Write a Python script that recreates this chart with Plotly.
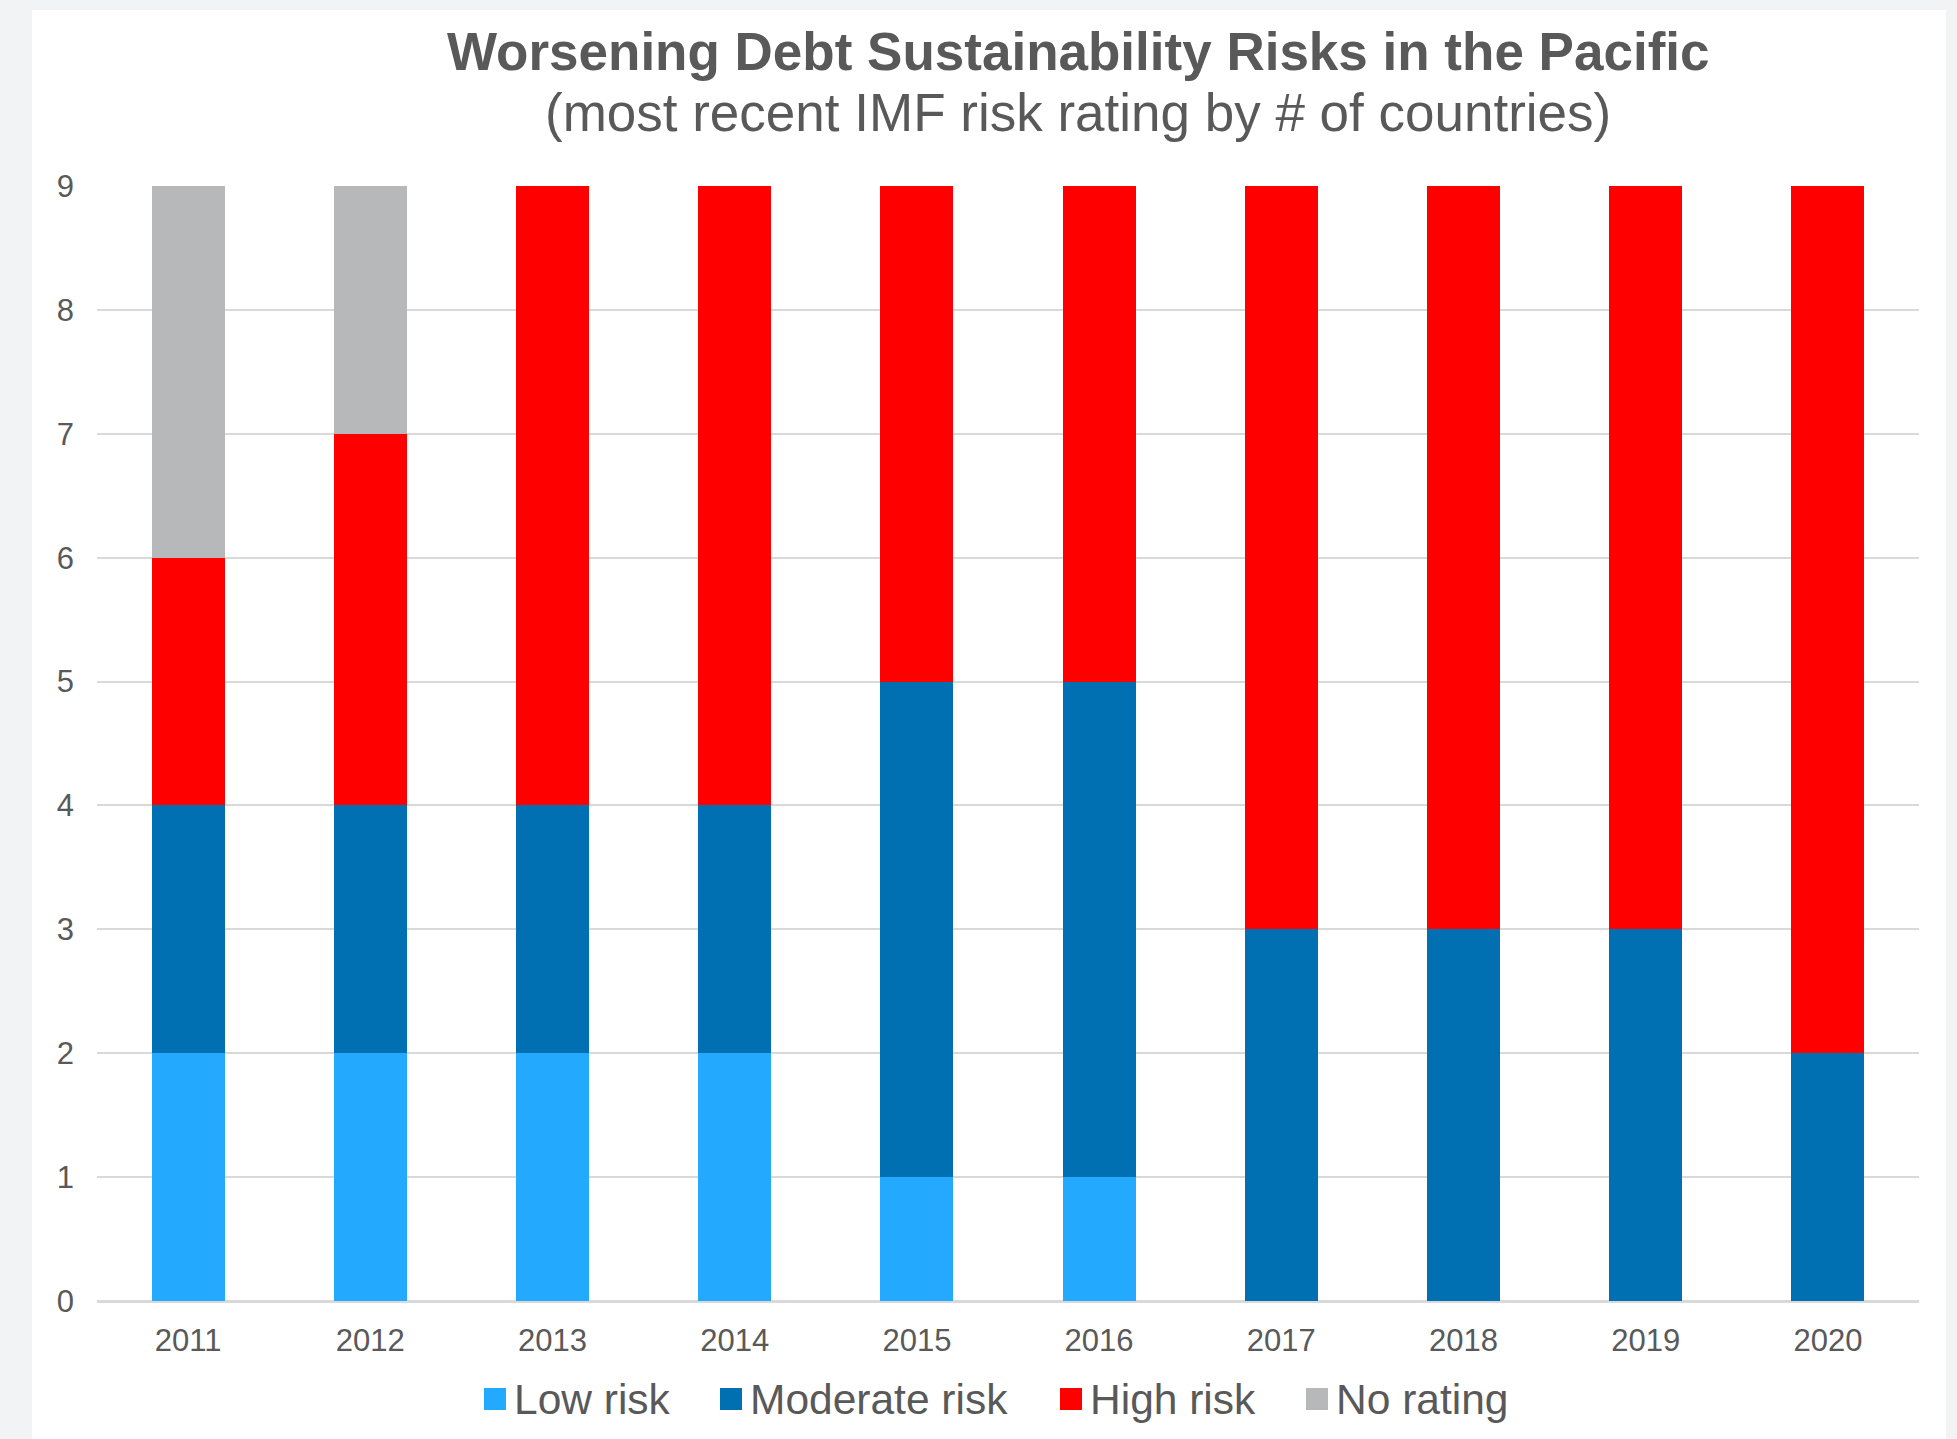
import plotly.graph_objects as go

# Pacific debt-distress ratings, number of countries per rating
years = ["2011", "2012", "2013", "2014", "2015", "2016", "2017", "2018", "2019", "2020"]
low_risk = [2, 2, 2, 2, 1, 1, 0, 0, 0, 0]
moderate_risk = [2, 2, 2, 2, 4, 4, 3, 3, 3, 2]
high_risk = [2, 3, 5, 5, 4, 4, 6, 6, 6, 7]
no_rating = [3, 2, 0, 0, 0, 0, 0, 0, 0, 0]

series_names = ["Low risk", "Moderate risk", "High risk", "No rating"]
series_values = [low_risk, moderate_risk, high_risk, no_rating]
series_colors = ["#23AAFF", "#0070B2", "#FF0000", "#B7B8BA"]

FONT = "Liberation Sans, Arial, sans-serif"
TEXT = "#595959"

W, H = 1957, 1439
ML, MR, MT, MB = 97, 38, 186, 138
plot_w = W - ML - MR
plot_h = H - MT - MB


def px_x(x):
    return (x - ML) / plot_w


def px_y(y):
    return (H - MB - y) / plot_h


fig = go.Figure()
for name, vals, col in zip(series_names, series_values, series_colors):
    fig.add_trace(go.Bar(
        x=years, y=vals, name=name,
        marker=dict(color=col, line=dict(width=0)),
        showlegend=False,
    ))

shapes = [
    # white card on the light grey page
    dict(type="rect", xref="paper", yref="paper", layer="below",
         x0=px_x(32), x1=px_x(1946), y0=px_y(1460), y1=px_y(10),
         fillcolor="white", line=dict(width=0)),
]
annotations = [
    dict(text="<b>Worsening Debt Sustainability Risks in the Pacific</b>",
         xref="paper", yref="paper", x=px_x(1078), y=px_y(52),
         xanchor="center", yanchor="middle", showarrow=False,
         font=dict(family=FONT, size=53, color=TEXT)),
    dict(text="(most recent IMF risk rating by # of countries)",
         xref="paper", yref="paper", x=px_x(1078), y=px_y(113),
         xanchor="center", yanchor="middle", showarrow=False,
         font=dict(family=FONT, size=53, color=TEXT)),
]

# legend row below the axis
legend_x = [484, 720, 1060, 1306]
for name, col, lx in zip(series_names, series_colors, legend_x):
    shapes.append(dict(type="rect", xref="paper", yref="paper",
                       x0=px_x(lx), x1=px_x(lx + 22),
                       y0=px_y(1410), y1=px_y(1388),
                       fillcolor=col, line=dict(width=0)))
    annotations.append(dict(text=name, xref="paper", yref="paper",
                            x=px_x(lx + 28), y=px_y(1399),
                            xanchor="left", yanchor="middle", showarrow=False,
                            font=dict(family=FONT, size=42.5, color=TEXT)))

fig.update_layout(
    width=W, height=H,
    barmode="stack", bargap=0.6,
    margin=dict(l=ML, r=MR, t=MT, b=MB, pad=0),
    paper_bgcolor="#F2F3F5", plot_bgcolor="white",
    font=dict(family=FONT, color=TEXT),
    shapes=shapes, annotations=annotations,
    xaxis=dict(type="category", showgrid=False, showline=False, zeroline=False,
               ticks="", tickfont=dict(size=31, color=TEXT), ticklabelstandoff=18),
    yaxis=dict(range=[0, 9], dtick=1, showgrid=True, gridcolor="#D9D9D9", gridwidth=2,
               zeroline=True, zerolinecolor="#D9D9D9", zerolinewidth=3,
               showline=False, ticks="", tickfont=dict(size=31, color=TEXT),
               ticklabelstandoff=22),
)

fig.write_html("out.html")
